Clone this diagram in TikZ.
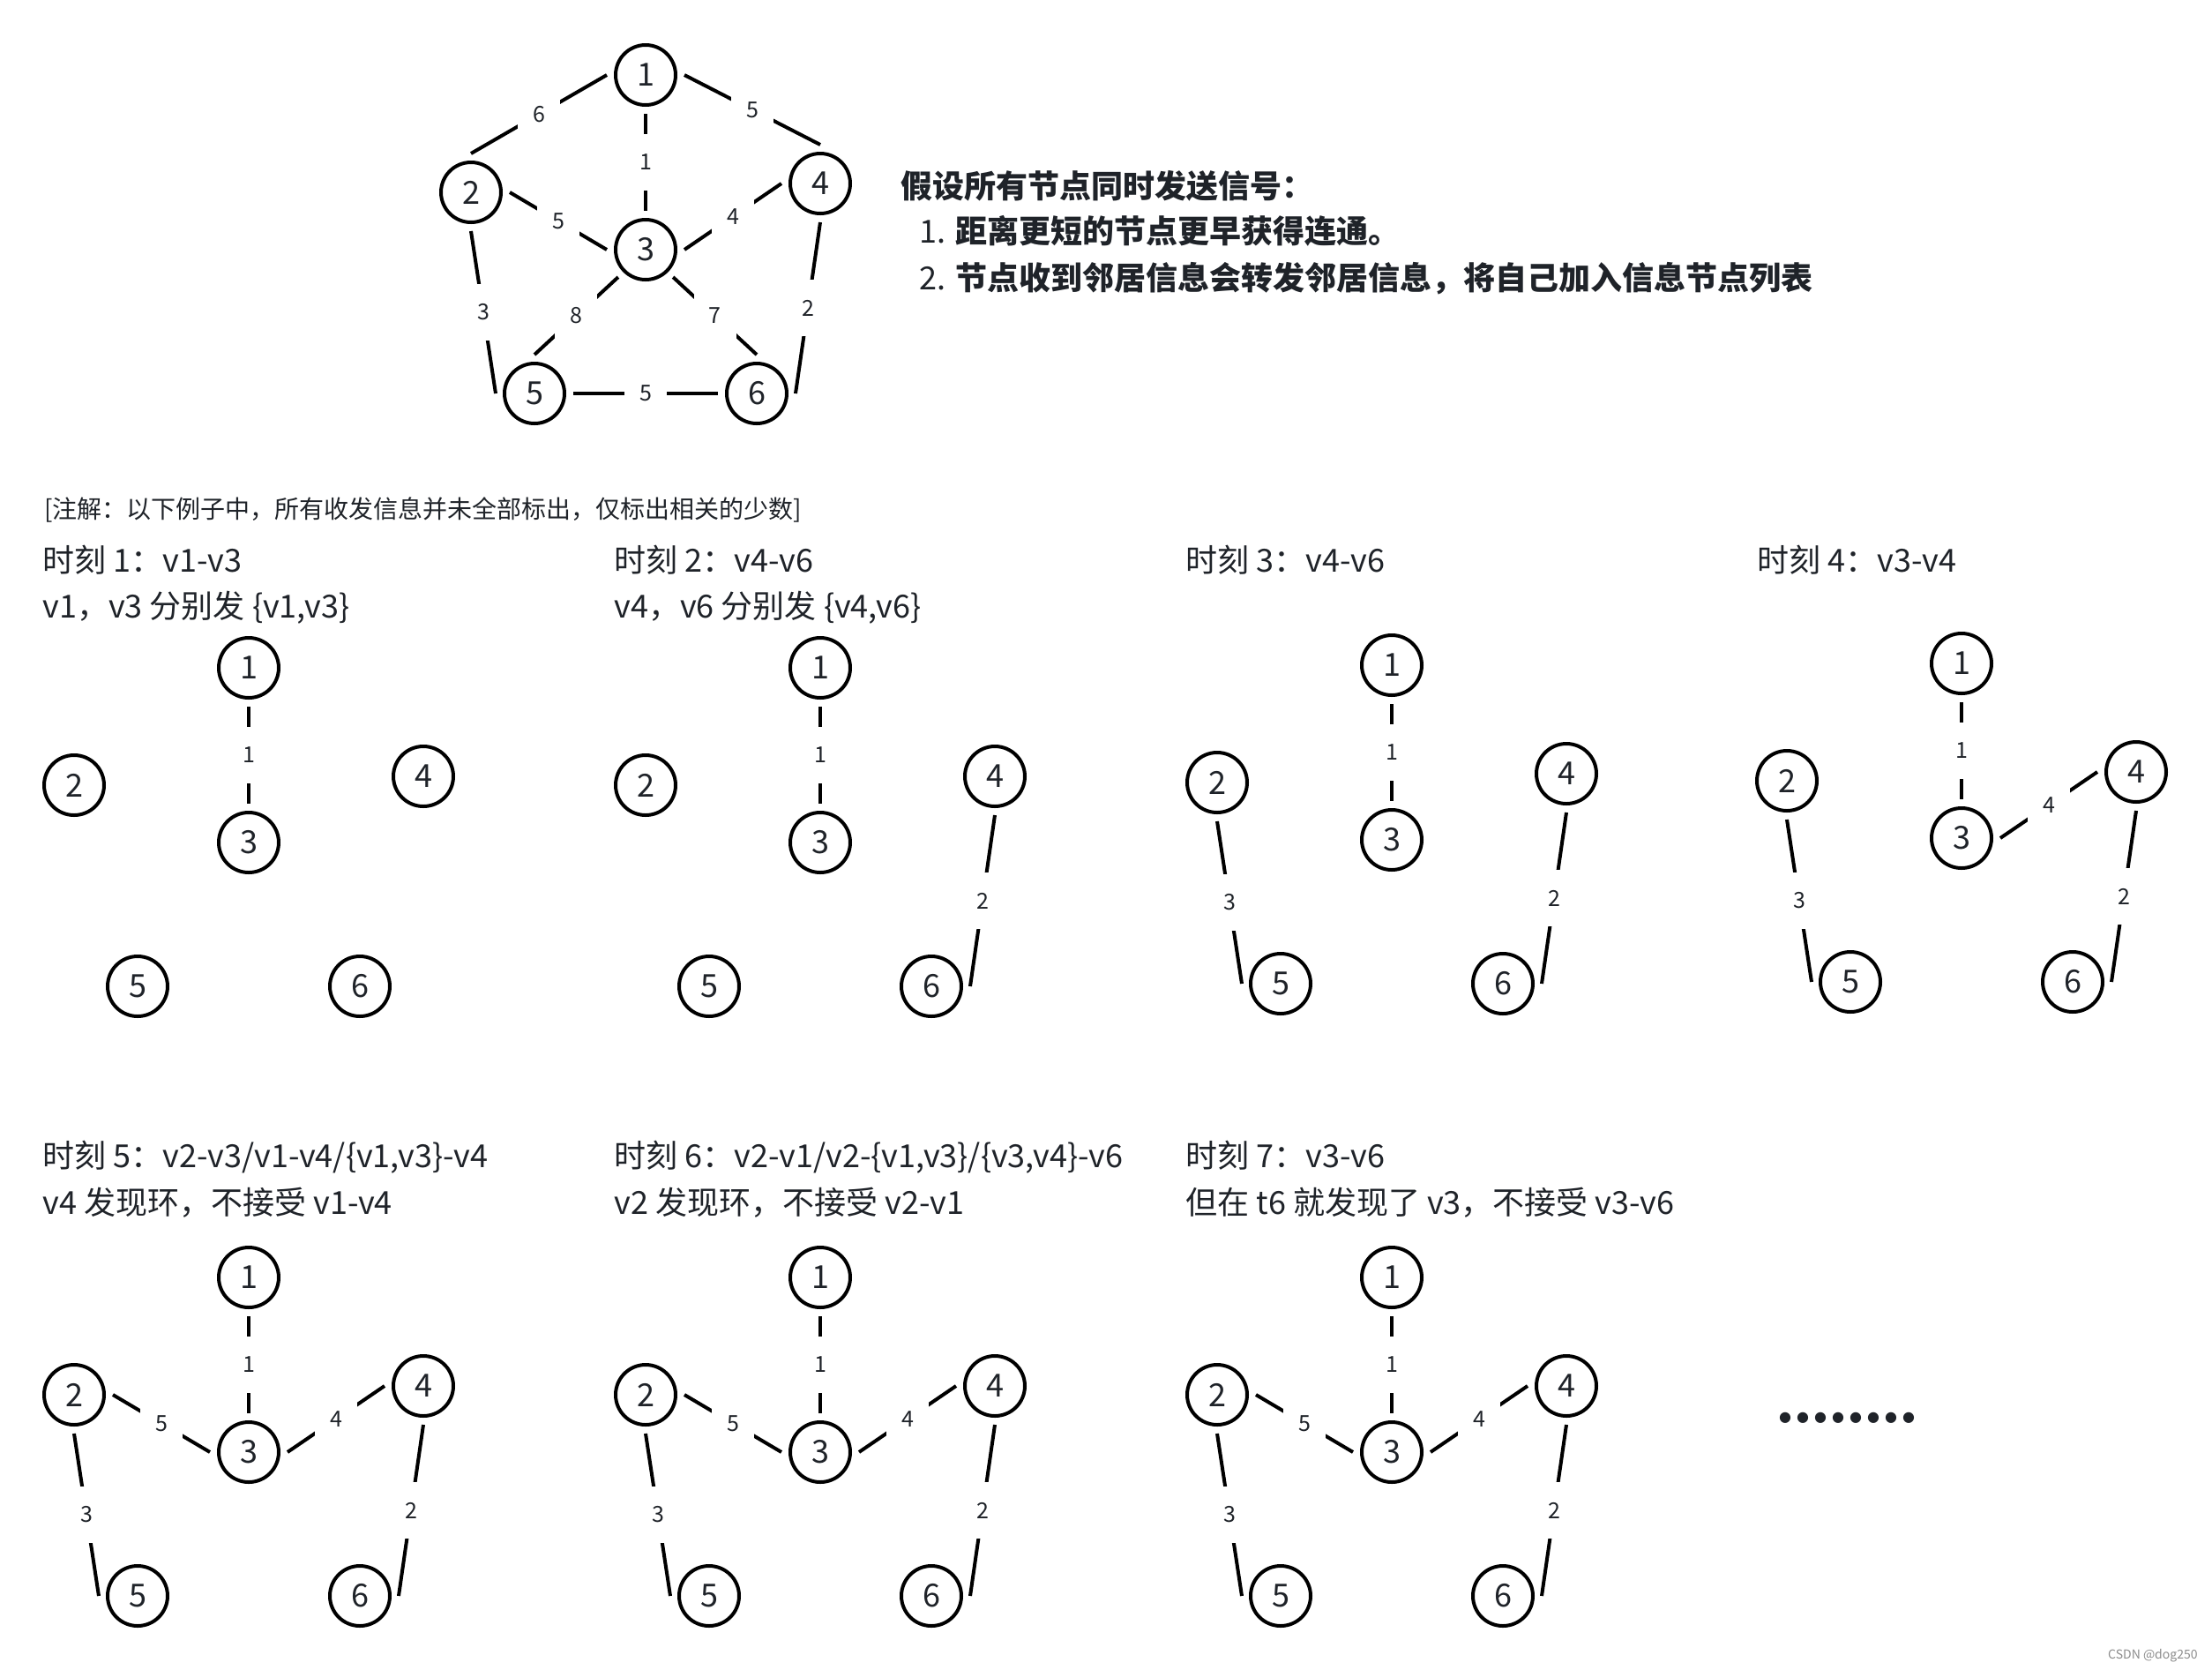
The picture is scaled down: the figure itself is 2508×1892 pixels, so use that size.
\documentclass[tikz,border=0pt]{standalone}
\usepackage{fontspec}
\setmainfont{Noto Sans CJK SC}
\newfontfamily\djv{DejaVu Sans}
\definecolor{txt}{RGB}{31,35,41}
\newcommand{\gnodes}[3]{%
  \begin{scope}[shift={(#2,#3)}]
    \node[vtx] (#1-1) at (0,0) {1};
    \node[vtx] (#1-2) at (-198,133) {2};
    \node[vtx] (#1-3) at (0,198) {3};
    \node[vtx] (#1-4) at (198,123) {4};
    \node[vtx] (#1-5) at (-126,361) {5};
    \node[vtx] (#1-6) at (126,361) {6};
  \end{scope}}
\newcommand{\eAC}[1]{\draw[edge] (#1-1.south) -- node[lbl]{1} (#1-3.north);}
\newcommand{\eAB}[1]{\draw[edge] (#1-1.west) -- node[lbl]{6} (#1-2.north);}
\newcommand{\eAD}[1]{\draw[edge] (#1-1.east) -- node[lbl]{5} (#1-4.north);}
\newcommand{\eBC}[1]{\draw[edge] (#1-2.east) -- node[lbl]{5} (#1-3.west);}
\newcommand{\eCD}[1]{\draw[edge] (#1-3.east) -- node[lbl]{4} (#1-4.west);}
\newcommand{\eBE}[1]{\draw[edge] (#1-2.south) -- node[lbl]{3} (#1-5.west);}
\newcommand{\eDF}[1]{\draw[edge] (#1-4.south) -- node[lbl]{2} (#1-6.east);}
\newcommand{\eCE}[1]{\draw[edge] (#1-3.south west) -- node[lbl]{8} (#1-5.north);}
\newcommand{\eCF}[1]{\draw[edge] (#1-3.south east) -- node[lbl]{7} (#1-6.north);}
\newcommand{\eEF}[1]{\draw[edge] (#1-5.east) -- node[lbl]{5} (#1-6.west);}
\newcommand{\dd}{\makebox[10pt]{●}}
\begin{document}
\begin{tikzpicture}[x=0.5pt,y=-0.5pt,
  vtx/.style={circle,draw=black,line width=2pt,minimum size=34pt,inner sep=0pt,outer sep=5pt,text=txt,font=\fontsize{18}{20}\selectfont},
  edge/.style={draw=black,line width=2pt},
  lbl/.style={fill=white,inner sep=0pt,minimum width=24pt,minimum height=32pt,text=txt,font=\fontsize{12.5}{14}\selectfont},
  ptxt/.style={anchor=base west,inner sep=0pt,text=txt,font=\fontsize{18}{20}\selectfont},
  ntxt/.style={anchor=base west,inner sep=0pt,text=txt,font=\fontsize{14}{16}\selectfont},
  ttxt/.style={anchor=base west,inner sep=0pt,text=txt,font=\fontsize{18}{20}\selectfont\bfseries}]
\fill[white] (0,0) rectangle (2508,1892);
\useasboundingbox (0,0) rectangle (2508,1892);
% top graph
\gnodes{t}{732}{85}
\eAB{t}\eAD{t}\eAC{t}\eBC{t}\eCD{t}\eBE{t}\eDF{t}\eCE{t}\eCF{t}\eEF{t}
% top text
\node[ttxt] (h0) at (1021,224) {假设所有节点同时发送信号：};
\node[ttxt] (h1) at (1042,275) {{\mdseries 1.} 距离更短的节点更早获得连通。};
\node[ttxt] (h2) at (1042,328) {{\mdseries 2.} 节点收到邻居信息会转发邻居信息，将自己加入信息节点列表};
% note
\node[ntxt] (note) at (50,587) {[注解：以下例子中，所有收发信息并未全部标出，仅标出相关的少数]};
% row 1 labels
\node[ptxt] (l1a) at (48,648) {时刻 1：v1-v3};
\node[ptxt] (l1b) at (48,700) {v1，v3 分别发 \{v1,v3\}};
\node[ptxt] (l2a) at (696,648) {时刻 2：v4-v6};
\node[ptxt] (l2b) at (696,700) {v4，v6 分别发 \{v4,v6\}};
\node[ptxt] (l3a) at (1344,648) {时刻 3：v4-v6};
\node[ptxt] (l4a) at (1992,648) {时刻 4：v3-v4};
% row 2 labels
\node[ptxt] (l5a) at (48,1323) {时刻 5：v2-v3/v1-v4/\{v1,v3\}-v4};
\node[ptxt] (l5b) at (48,1376) {v4 发现环，不接受 v1-v4};
\node[ptxt] (l6a) at (696,1323) {时刻 6：v2-v1/v2-\{v1,v3\}/\{v3,v4\}-v6};
\node[ptxt] (l6b) at (696,1376) {v2 发现环，不接受 v2-v1};
\node[ptxt] (l7a) at (1344,1323) {时刻 7：v3-v6};
\node[ptxt] (l7b) at (1344,1376) {但在 t6 就发现了 v3，不接受 v3-v6};
% panels
\gnodes{a}{282}{757}
\eAC{a}
\gnodes{b}{930}{757}
\eAC{b}\eDF{b}
\gnodes{c}{1578}{754}
\eAC{c}\eBE{c}\eDF{c}
\gnodes{d}{2224}{752}
\eAC{d}\eBE{d}\eDF{d}\eCD{d}
\gnodes{e}{282}{1448}
\eAC{e}\eBE{e}\eDF{e}\eCD{e}\eBC{e}
\gnodes{f}{930}{1448}
\eAC{f}\eBE{f}\eDF{f}\eCD{f}\eBC{f}
\gnodes{g}{1578}{1448}
\eAC{g}\eBE{g}\eDF{g}\eCD{g}\eBC{g}
% dots
\node[inner sep=0pt,text=txt,font=\djv\fontsize{8}{8}\selectfont] (dots) at (2094,1607) {\dd\dd\dd\dd\dd\dd\dd\dd};
% watermark
\node[anchor=base east,inner sep=0pt,text=black!45,font=\fontsize{7}{8}\selectfont] (wm) at (2492,1880) {CSDN @dog250};
\end{tikzpicture}
\end{document}
